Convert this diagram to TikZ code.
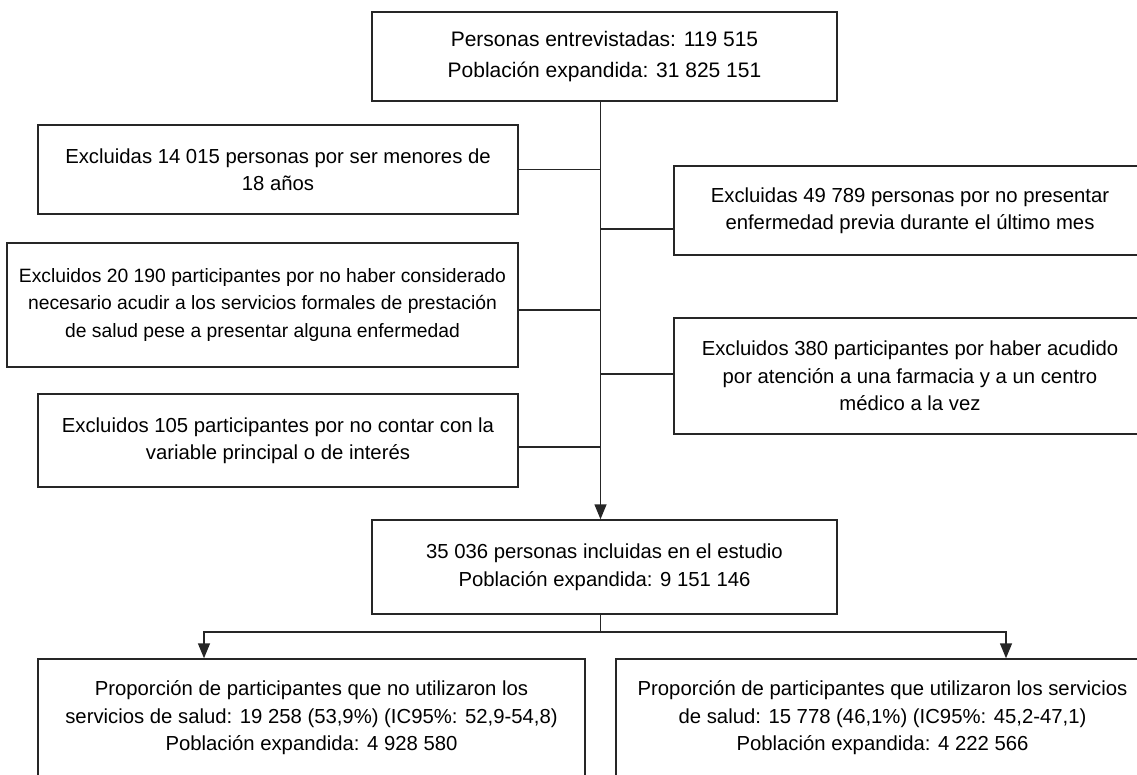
\documentclass[tikz,border=0pt]{standalone}
\usepackage{fontspec}
\setmainfont{Liberation Sans}
\usetikzlibrary{arrows.meta}
\begin{document}
\begin{tikzpicture}[x=1pt,y=-1pt,
  box/.style={draw=black!85, line width=1.5pt, align=center, inner sep=0pt,
    font=\fontsize{20.3}{27.5}\selectfont},
  link/.style={draw=black!85, line width=1.5pt},
  arr/.style={link, -{Triangle[length=15pt,width=12pt]}}]
\useasboundingbox (0,0) rectangle (1137,774);
\clip (0,0) rectangle (1137,774);
\fill[white] (0,0) rectangle (1137,774);

\node[box, minimum width=465pt, minimum height=89pt, font=\fontsize{21}{31}\selectfont] (top) at (604.5,56.5)
  {Personas entrevistadas: 119 515\\Población expandida: 31 825 151};
\node[box, minimum width=480pt, minimum height=89pt] (ex1) at (278,169.5)
  {Excluidas 14 015 personas por ser menores de\\18 años};
\node[box, minimum width=472pt, minimum height=89pt] (ex2) at (910,210.5)
  {Excluidas 49 789 personas por no presentar\\enfermedad previa durante el último mes};
\node[box, minimum width=511pt, minimum height=124pt, font=\fontsize{19.3}{27.5}\selectfont] (ex3) at (262.5,305)
  {Excluidos 20 190 participantes por no haber considerado\\necesario acudir a los servicios formales de prestación\\de salud pese a presentar alguna enfermedad};
\node[box, minimum width=472pt, minimum height=116pt] (ex4) at (910,376)
  {Excluidos 380 participantes por haber acudido\\por atención a una farmacia y a un centro\\médico a la vez};
\node[box, minimum width=480pt, minimum height=93pt] (ex5) at (278,440.5)
  {Excluidos 105 participantes por no contar con la\\variable principal o de interés};
\node[box, minimum width=465pt, minimum height=94pt] (inc) at (604.5,567)
  {35 036 personas incluidas en el estudio\\Población expandida: 9 151 146};
\node[box, minimum width=547pt, minimum height=118pt] (no) at (311.5,718)
  {Proporción de participantes que no utilizaron los\\servicios de salud: 19 258 (53,9\%) (IC95\%: 52,9-54,8)\\Población expandida: 4 928 580};
\node[box, minimum width=533pt, minimum height=118pt] (yes) at (882.5,718)
  {Proporción de participantes que utilizaron los servicios\\de salud: 15 778 (46,1\%) (IC95\%: 45,2-47,1)\\Población expandida: 4 222 566};

% main spine
\draw[arr] ([xshift=-4pt]top.south) -- ([xshift=-4pt]inc.north);
\coordinate (spine) at (600.5,0);
\draw[link] (ex1.east) -- (ex1.east -| spine);
\draw[link] ([yshift=-18.5pt]ex2.west) -- ([yshift=-18.5pt]ex2.west -| spine);
\draw[link] ([yshift=-5pt]ex3.east) -- ([yshift=-5pt]ex3.east -| spine);
\draw[link] ([yshift=2pt]ex4.west) -- ([yshift=2pt]ex4.west -| spine);
\draw[link] ([yshift=-6.5pt]ex5.east) -- ([yshift=-6.5pt]ex5.east -| spine);

% split
\coordinate (split) at (600.5,632);
\draw[link] ([xshift=-4pt]inc.south) -- (split);
\draw[arr] (split) -| ([xshift=-107.5pt]no.north);
\draw[arr] (split) -| ([xshift=123.5pt]yes.north);
\end{tikzpicture}
\end{document}
